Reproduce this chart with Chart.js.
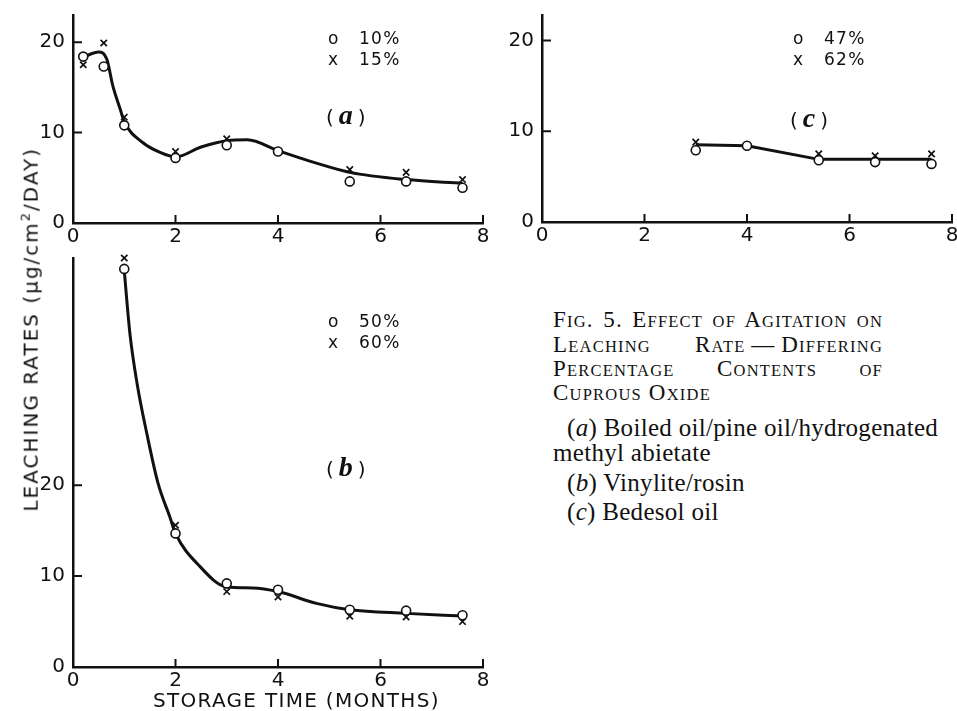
<!DOCTYPE html>
<html>
<head>
<meta charset="utf-8">
<script src="https://cdn.jsdelivr.net/npm/chart.js@4.4.1/dist/chart.umd.min.js"></script>
<style>
  html, body { margin: 0; padding: 0; background: #fff; overflow: hidden; }
  #page { position: relative; width: 957px; height: 711px; }
  canvas { position: absolute; }
  .lbl { position: absolute; font-family: "DejaVu Sans"; color: #111; white-space: nowrap; }
  .leg { font-size: 17px; line-height: 20px; letter-spacing: 1.3px; }
  .panel { font-size: 20px; line-height: 30px; }
  .panel i { font-family: "Liberation Serif"; font-weight: bold; font-size: 28px; margin: 0 5px; }
  .cap { position: absolute; font-family: "Liberation Serif"; color: #111; white-space: nowrap; }
  .head { font-size: 23px; line-height: 24px; letter-spacing: 1.2px; width: 330px; }
  .head.just { text-align: justify; text-align-last: justify; }
  .sm { font-size: 16.5px; }
  .body { font-size: 25px; line-height: 28px; letter-spacing: 0.3px; }
</style>
</head>
<body>
<div id="page">
  <canvas id="panelA" width="500" height="250" style="left:0;top:0"></canvas>
  <canvas id="panelC" width="465" height="250" style="left:500px;top:0"></canvas>
  <canvas id="panelB" width="500" height="461" style="left:0;top:250px"></canvas>

  <div class="lbl panel" style="left:326px;top:100px">(<i>a</i>)</div>
  <div class="lbl panel" style="left:326px;top:452px">(<i>b</i>)</div>
  <div class="lbl panel" style="left:790px;top:103px">(<i>c</i>)</div>

  <div class="lbl" style="left:-157px;top:315px;width:370px;text-align:center;font-size:20px;line-height:24px;letter-spacing:2px;transform:rotate(-90deg)">LEACHING RATES (μg/cm<sup style="font-size:13px">2</sup>/DAY)</div>
  <div class="lbl" style="left:153px;top:688px;font-size:20px;line-height:24px;letter-spacing:1.3px">STORAGE TIME (MONTHS)</div>

  <div id="caption"></div>
</div>

<script>
const ink = '#111';

// storage time (months) and leaching rates
const ticksX = [0, 2, 4, 6, 8];
const ticksY = [0, 10, 20];

// (a) boiled oil / pine oil / hydrogenated methyl abietate
const namesA = ['10%', '15%'];
const monthsA10 = [0.2, 0.6, 1, 2, 3, 4, 5.4, 6.5, 7.6];
const rateA10 = [18.4, 17.3, 10.8, 7.2, 8.6, 7.9, 4.6, 4.6, 3.9];
const monthsA15 = [0.2, 0.6, 1, 2, 3, 5.4, 6.5, 7.6];
const rateA15 = [17.5, 19.9, 11.7, 7.9, 9.3, 5.9, 5.6, 4.8];
const curveMonthsA = [0.22, 0.5, 0.66, 0.78, 0.92, 1.0, 1.36, 1.7, 2.0, 2.5, 3.0, 3.4, 4.0, 4.7, 5.4, 6.5, 7.6];
const curveRateA = [18.4, 18.9, 18.1, 15.1, 12.6, 11.2, 8.9, 7.8, 7.3, 8.4, 9.1, 9.2, 8.0, 6.7, 5.6, 4.8, 4.4];

// (b) vinylite / rosin
const namesB = ['50%', '60%'];
const monthsB = [1, 2, 3, 4, 5.4, 6.5, 7.6];
const rateB50 = [43.8, 14.7, 9.2, 8.5, 6.3, 6.2, 5.7];
const rateB60 = [45.0, 15.6, 8.3, 7.7, 5.6, 5.5, 5.0];
const curveMonthsB = [1.0, 1.11, 1.25, 1.44, 1.66, 1.89, 2.0, 2.47, 3.0, 3.5, 4.0, 4.75, 5.4, 6.5, 7.6];
const curveRateB = [43.6, 36.7, 31.2, 25.7, 20.2, 16.5, 14.7, 11.1, 8.8, 8.7, 8.3, 7.0, 6.3, 5.9, 5.6];

// (c) bedesol oil
const namesC = ['47%', '62%'];
const monthsC47 = [3, 4, 5.4, 6.5, 7.6];
const rateC47 = [7.9, 8.4, 6.8, 6.6, 6.4];
const monthsC62 = [3, 5.4, 6.5, 7.6];
const rateC62 = [8.8, 7.5, 7.3, 7.5];
const lineMonthsC = [3, 4, 5.4, 6.5, 7.6];
const lineRateC = [8.5, 8.4, 6.9, 6.9, 6.9];

function pts(xs, ys) {
    return xs.map((v, i) => ({x: v, y: ys[i]}));
}

// tick marks point into the plot, like the original drawing
const inwardTicks = {
    id: 'inwardTicks',
    afterDraw(chart) {
        const {ctx, chartArea} = chart;
        const x = chart.scales.x, y = chart.scales.y;
        ctx.save();
        ctx.strokeStyle = ink;
        ctx.lineWidth = 2;
        ctx.beginPath();
        x.ticks.forEach(t => {
            if (t.value === 0) return;
            const px = x.getPixelForValue(t.value);
            ctx.moveTo(px, chartArea.bottom);
            ctx.lineTo(px, chartArea.bottom - 8);
        });
        y.ticks.forEach(t => {
            if (t.value === 0) return;
            const py = y.getPixelForValue(t.value);
            ctx.moveTo(chartArea.left, py);
            ctx.lineTo(chartArea.left + 9, py);
        });
        ctx.stroke();
        ctx.restore();
    }
};

function makePanel(id, p) {
    const tickFont = {family: 'DejaVu Sans', size: 20};
    return new Chart(document.getElementById(id), {
        type: 'scatter',
        data: {
            datasets: [
                {
                    data: pts(p.xs1, p.ys1),
                    pointStyle: 'circle', pointRadius: 4.5, borderWidth: 1.6,
                    borderColor: ink, backgroundColor: '#fff', order: 0, clip: false
                },
                {
                    data: pts(p.xs2, p.ys2),
                    pointStyle: 'crossRot', pointRadius: 4.5, borderWidth: 1.7,
                    borderColor: ink, backgroundColor: ink, order: 1, clip: false
                },
                {
                    data: pts(p.lineX, p.lineY),
                    showLine: true, pointRadius: 0, borderWidth: 3, borderColor: ink,
                    cubicInterpolationMode: p.smooth ? 'monotone' : 'default', tension: 0,
                    order: 2, clip: false
                }
            ]
        },
        options: {
            responsive: false,
            animation: false,
            events: [],
            layout: {padding: p.pad},
            plugins: {legend: {display: false}, tooltip: {enabled: false}},
            scales: {
                x: {
                    type: 'linear', min: 0, max: 8,
                    afterBuildTicks: s => { s.ticks = ticksX.map(v => ({value: v})); },
                    afterFit: s => { s.height = p.xh; s.paddingLeft = 0; s.paddingRight = 0; },
                    grid: {display: false, drawTicks: false},
                    border: {display: true, width: 2.5, color: ink},
                    ticks: {padding: 2, font: tickFont, color: ink, maxRotation: 0, autoSkip: false}
                },
                y: {
                    type: 'linear', min: 0, max: p.ymax,
                    afterBuildTicks: s => { s.ticks = ticksY.map(v => ({value: v})); },
                    afterFit: s => { s.width = p.yw; s.paddingTop = 0; s.paddingBottom = 0; },
                    grid: {display: false, drawTicks: false},
                    border: {display: true, width: 2.5, color: ink},
                    ticks: {padding: 8, font: tickFont, color: ink, autoSkip: false}
                }
            }
        },
        plugins: [inwardTicks]
    });
}

makePanel('panelA', {
    xs1: monthsA10, ys1: rateA10, xs2: monthsA15, ys2: rateA15,
    lineX: curveMonthsA, lineY: curveRateA, smooth: true,
    ymax: 23, yw: 73, xh: 27, pad: {left: 0, top: 15, right: 17, bottom: 0}
});
makePanel('panelC', {
    xs1: monthsC47, ys1: rateC47, xs2: monthsC62, ys2: rateC62,
    lineX: lineMonthsC, lineY: lineRateC, smooth: false,
    ymax: 22.8, yw: 42, xh: 28, pad: {left: 0, top: 15, right: 13, bottom: 0}
});
makePanel('panelB', {
    xs1: monthsB, ys1: rateB50, xs2: monthsB, ys2: rateB60,
    lineX: curveMonthsB, lineY: curveRateB, smooth: true,
    ymax: 45, yw: 73, xh: 44, pad: {left: 0, top: 8, right: 17, bottom: 0}
});

// legends: o / x markers with the percentage names
function addLegend(x, y, names) {
    const page = document.getElementById('page');
    ['o', 'x'].forEach((m, i) => {
        const mark = document.createElement('div');
        mark.className = 'lbl leg';
        mark.style.left = (x - 5) + 'px';
        mark.style.top = (y + i * 21 - 11) + 'px';
        mark.textContent = m;
        page.appendChild(mark);
        const txt = document.createElement('div');
        txt.className = 'lbl leg';
        txt.style.left = (x + 26) + 'px';
        txt.style.top = (y + i * 21 - 11) + 'px';
        txt.textContent = names[i];
        page.appendChild(txt);
    });
}
addLegend(333, 39, namesA);
addLegend(333, 322, namesB);
addLegend(798, 39, namesC);

// caption, in small capitals
function smallCaps(str) {
    return str.split('').map(ch => (ch >= 'a' && ch <= 'z') ? '<span class="sm">' + ch.toUpperCase() + '</span>' : ch).join('');
}
const headLines = ['Fig. 5. Effect of Agitation on', 'Leaching Rate\u202F\u2014\u202FDiffering', 'Percentage Contents of', 'Cuprous Oxide'];
const headY = [320, 345, 369, 393];
const bodyLines = ['(<i>a</i>) Boiled oil/pine oil/hydrogenated', 'methyl abietate', '(<i>b</i>) Vinylite/rosin', '(<i>c</i>) Bedesol oil'];
const bodyX = [567, 553, 567, 567];
const bodyY = [428, 453, 483, 512];

let html = '';
headLines.forEach((line, i) => {
    const cls = i < headLines.length - 1 ? 'cap head just' : 'cap head';
    html += '<div class="' + cls + '" style="left:553px;top:' + (headY[i] - 12) + 'px">' + smallCaps(line) + '</div>';
});
bodyLines.forEach((line, i) => {
    html += '<div class="cap body" style="left:' + bodyX[i] + 'px;top:' + (bodyY[i] - 14) + 'px">' + line + '</div>';
});
document.getElementById('caption').innerHTML = html;
</script>
</body>
</html>
